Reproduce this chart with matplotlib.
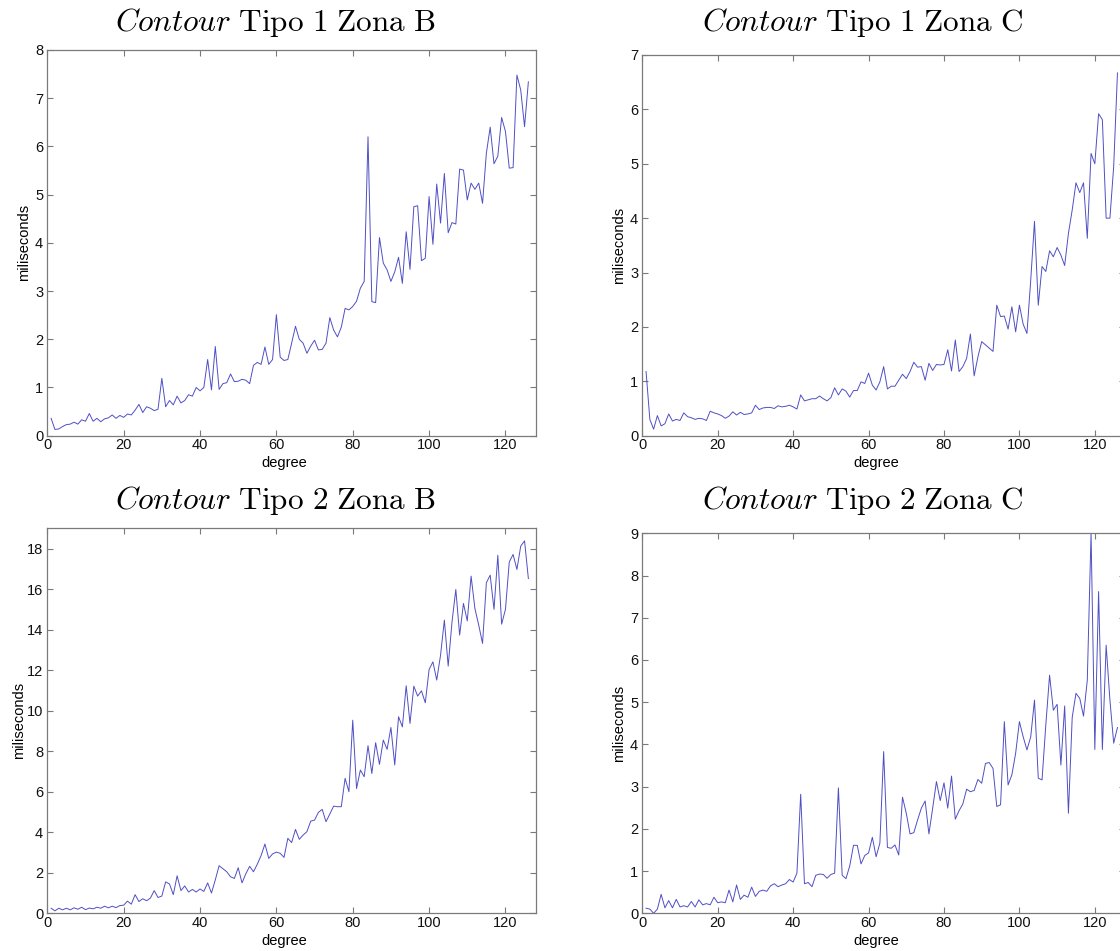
import matplotlib
matplotlib.use("Agg")
import matplotlib.pyplot as plt
import numpy as np

# Execution time (ms) versus polynomial degree for each contour type / zone
degree = list(range(1, 127))

tipo1_zona_b = [
    0.36, 0.13, 0.14, 0.19, 0.23, 0.24, 0.28, 0.24, 0.33, 0.30,
    0.46, 0.30, 0.36, 0.29, 0.35, 0.37, 0.43, 0.36, 0.42, 0.38,
    0.45, 0.43, 0.53, 0.65, 0.48, 0.60, 0.57, 0.52, 0.55, 1.19,
    0.60, 0.73, 0.64, 0.82, 0.68, 0.73, 0.85, 0.82, 1.00, 0.93,
    1.00, 1.58, 0.95, 1.85, 0.96, 1.08, 1.10, 1.28, 1.12, 1.13,
    1.17, 1.15, 1.08, 1.46, 1.52, 1.48, 1.84, 1.48, 1.58, 2.51,
    1.63, 1.56, 1.58, 1.92, 2.27, 2.00, 1.92, 1.71, 1.86, 1.98,
    1.78, 1.79, 1.92, 2.45, 2.19, 2.05, 2.25, 2.64, 2.61, 2.68,
    2.79, 3.06, 3.20, 6.20, 2.78, 2.76, 4.11, 3.58, 3.44, 3.20,
    3.40, 3.70, 3.16, 4.23, 3.45, 4.75, 4.77, 3.63, 3.68, 4.96,
    3.97, 5.22, 4.41, 5.44, 4.21, 4.42, 4.39, 5.53, 5.51, 4.89,
    5.24, 5.11, 5.24, 4.82, 5.86, 6.40, 5.64, 5.80, 6.60, 6.31,
    5.55, 5.56, 7.48, 7.17, 6.41, 7.34,
]

tipo1_zona_c = [
    1.18, 0.30, 0.12, 0.37, 0.18, 0.22, 0.40, 0.27, 0.30, 0.28,
    0.42, 0.35, 0.33, 0.30, 0.32, 0.31, 0.28, 0.45, 0.42, 0.40,
    0.37, 0.32, 0.36, 0.44, 0.38, 0.43, 0.39, 0.40, 0.42, 0.56,
    0.48, 0.51, 0.52, 0.52, 0.50, 0.55, 0.53, 0.54, 0.56, 0.53,
    0.49, 0.75, 0.64, 0.66, 0.68, 0.68, 0.73, 0.68, 0.64, 0.70,
    0.88, 0.75, 0.86, 0.82, 0.71, 0.83, 0.83, 0.99, 0.96, 1.15,
    0.93, 0.84, 0.99, 1.27, 0.86, 0.91, 0.91, 1.02, 1.13, 1.05,
    1.18, 1.35, 1.26, 1.27, 1.02, 1.33, 1.20, 1.31, 1.30, 1.31,
    1.58, 1.19, 1.76, 1.18, 1.27, 1.42, 1.87, 1.10, 1.45, 1.73,
    1.67, 1.61, 1.55, 2.40, 2.19, 2.20, 1.96, 2.37, 1.91, 2.40,
    2.05, 1.88, 2.86, 3.94, 2.40, 3.11, 3.02, 3.40, 3.29, 3.46,
    3.32, 3.13, 3.72, 4.15, 4.65, 4.47, 4.65, 3.63, 5.19, 5.00,
    5.92, 5.81, 4.00, 4.00, 4.95, 6.67,
]

tipo2_zona_b = [
    0.25, 0.12, 0.25, 0.17, 0.25, 0.17, 0.27, 0.20, 0.30, 0.18,
    0.26, 0.22, 0.30, 0.25, 0.35, 0.27, 0.35, 0.28, 0.38, 0.40,
    0.60, 0.45, 0.92, 0.58, 0.72, 0.62, 0.75, 1.12, 0.78, 0.85,
    1.55, 1.45, 0.92, 1.85, 1.12, 1.35, 1.05, 1.18, 1.05, 1.20,
    1.08, 1.50, 1.00, 1.65, 2.35, 2.20, 2.05, 1.80, 1.72, 2.25,
    1.50, 1.95, 2.32, 2.05, 2.42, 2.85, 3.42, 2.71, 2.93, 3.02,
    2.96, 2.76, 3.70, 3.49, 4.14, 3.65, 3.86, 4.03, 4.55, 4.60,
    4.98, 5.13, 4.52, 4.90, 5.29, 5.26, 5.26, 6.66, 6.00, 9.53,
    6.16, 7.07, 6.74, 8.27, 6.90, 8.42, 7.35, 8.55, 8.09, 9.17,
    7.32, 9.70, 9.20, 11.23, 9.37, 11.21, 10.72, 10.98, 10.39, 12.03,
    12.41, 11.51, 12.74, 14.47, 12.20, 14.38, 15.98, 13.73, 15.29, 14.43,
    16.64, 15.04, 14.22, 13.32, 16.31, 16.69, 15.00, 17.67, 14.27, 15.00,
    17.34, 17.71, 16.97, 18.12, 18.38, 16.52,
]

tipo2_zona_c = [
    0.12, 0.10, 0.00, 0.10, 0.45, 0.13, 0.30, 0.13, 0.33, 0.15,
    0.18, 0.15, 0.28, 0.15, 0.32, 0.20, 0.23, 0.20, 0.38, 0.25,
    0.27, 0.25, 0.55, 0.27, 0.67, 0.33, 0.43, 0.38, 0.62, 0.40,
    0.52, 0.55, 0.52, 0.65, 0.70, 0.63, 0.67, 0.70, 0.80, 0.74,
    0.95, 2.82, 0.70, 0.73, 0.63, 0.90, 0.93, 0.92, 0.83, 0.92,
    0.95, 2.97, 0.90, 0.82, 1.12, 1.61, 1.61, 1.17, 1.37, 1.43,
    1.80, 1.34, 1.66, 3.83, 1.56, 1.54, 1.62, 1.38, 2.75, 2.37,
    1.88, 1.91, 2.21, 2.49, 2.66, 1.88, 2.49, 3.12, 2.67, 3.09,
    2.49, 3.25, 2.23, 2.43, 2.59, 2.94, 2.88, 2.91, 3.17, 3.08,
    3.55, 3.57, 3.43, 2.53, 2.57, 4.54, 3.04, 3.28, 3.79, 4.54,
    4.18, 3.87, 4.18, 5.05, 3.20, 3.16, 4.46, 5.64, 4.81, 4.95,
    3.51, 4.91, 2.37, 4.64, 5.21, 5.09, 4.67, 5.52, 9.00, 3.88,
    7.62, 3.88, 6.35, 5.05, 4.03, 4.40,
]

titles = [
    r"$\mathit{Contour}\ \mathrm{Tipo\ 1\ Zona\ B}$",
    r"$\mathit{Contour}\ \mathrm{Tipo\ 1\ Zona\ C}$",
    r"$\mathit{Contour}\ \mathrm{Tipo\ 2\ Zona\ B}$",
    r"$\mathit{Contour}\ \mathrm{Tipo\ 2\ Zona\ C}$",
]
series = [tipo1_zona_b, tipo1_zona_c, tipo2_zona_b, tipo2_zona_c]
y_limits = [8, 7, 19, 9]
y_steps = [1, 1, 2, 1]
x_ticks = [0, 20, 40, 60, 80, 100, 120]

plt.rcParams["mathtext.fontset"] = "cm"
plt.rcParams["font.family"] = ["Liberation Sans", "DejaVu Sans"]

W, H = 1120, 951
fig = plt.figure(figsize=(W / 100, H / 100), dpi=100)
fig.patch.set_facecolor("white")

# axes boxes in pixels: left, right, top, bottom
boxes = [
    (47.3, 536.0, 50.0, 435.7),
    (642.3, 1125.0, 55.0, 435.7),
    (47.3, 536.0, 528.3, 913.3),
    (642.3, 1125.0, 533.3, 913.3),
]
title_pos = [(275, 31), (863, 31), (275, 509), (863, 509)]
ylabel_x = [24, 619, 19, 619]
xlabel_y = [463, 463, 941, 941]

spine_col = "#7a7a7a"
line_col = "#3c3cbf"

for i, (vals, ymax, step) in enumerate(zip(series, y_limits, y_steps)):
    l, r, t, b = boxes[i]
    ax = fig.add_axes([l / W, 1 - b / H, (r - l) / W, (b - t) / H])
    ax.plot(degree, vals, color=line_col, lw=0.7, alpha=0.9)
    ax.set_xlim(0, 128)
    ax.set_ylim(0, ymax)
    ax.set_xticks(x_ticks)
    ax.set_yticks(np.arange(0, ymax + 0.01, step) if ymax % step == 0 else np.arange(0, ymax, step))
    for s in ax.spines.values():
        s.set_color(spine_col)
        s.set_linewidth(0.9)
    ax.tick_params(direction="in", length=4, width=0.8, color=spine_col,
                   top=True, right=True, labelsize=10.5, labelcolor="#111111",
                   pad=3)
    ax.tick_params(axis="x", pad=2)

    tx, ty = title_pos[i]
    fig.text(tx / W, 1 - ty / H, titles[i], ha="center", va="baseline",
             fontsize=22.5, color="black")
    fig.text(ylabel_x[i] / W, 1 - ((t + b) / 2) / H, "miliseconds",
             rotation=90, ha="center", va="center", fontsize=10.5, color="black")
    fig.text(((l + r) / 2 - 7) / W, 1 - xlabel_y[i] / H, "degree",
             ha="center", va="center", fontsize=10.5, color="black")

fig.savefig("out.png", dpi=100, facecolor="white")
